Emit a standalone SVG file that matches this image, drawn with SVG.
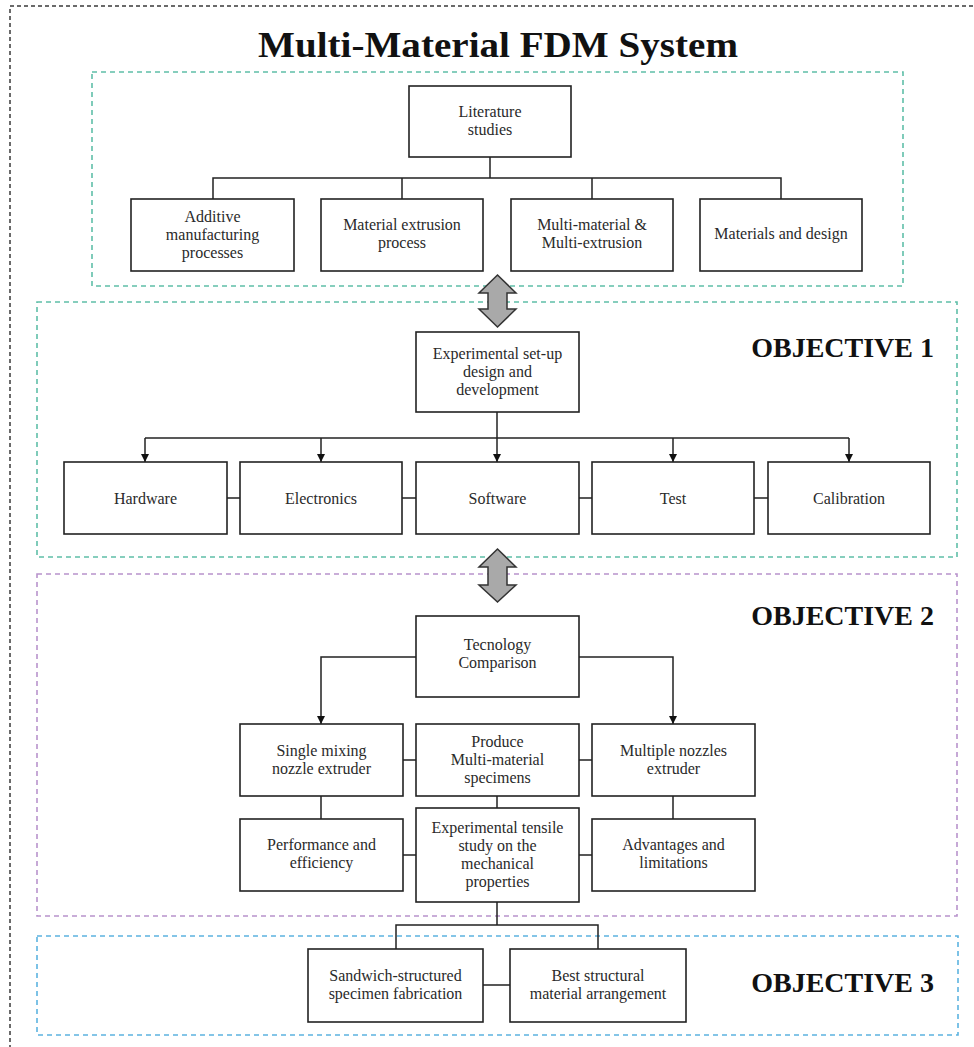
<svg xmlns="http://www.w3.org/2000/svg" width="974" height="1047" viewBox="0 0 974 1047">
<style>
.node rect{fill:#fff;stroke:#222;stroke-width:1.6}
.node text{font-family:"Liberation Serif","Times New Roman",serif;font-size:16px;fill:#2a2a2a;text-anchor:middle}
.conn path,.conn line{stroke:#222;stroke-width:1.5;fill:none}
.arr{marker-end:url(#ah)}
.dbl{fill:#a9a9a9;stroke:#333;stroke-width:1.5;stroke-linejoin:miter}
.frame{fill:none;stroke-width:1.6;stroke-dasharray:5 4}
.teal{stroke:#5fbfa8}
.purple{stroke:#b893cc}
.blue{stroke:#5cb3e0}
.obj{font-family:"Liberation Serif","Times New Roman",serif;font-size:28px;font-weight:bold;fill:#111;text-anchor:end}
</style>
<defs>
<marker id="ah" viewBox="0 0 10 10" refX="10" refY="5" markerWidth="8" markerHeight="8" markerUnits="userSpaceOnUse" orient="auto">
<path d="M0,0 L10,5 L0,10 z" fill="#111"/>
</marker>
</defs>
<rect width="974" height="1047" fill="#fff"/>
<rect x="10" y="6" width="1000" height="1100" fill="none" stroke="#6a6a6a" stroke-width="2" stroke-dasharray="4 3"/>
<text x="498" y="57" font-family="'Liberation Serif','Times New Roman',serif" font-size="36" font-weight="bold" fill="#111" text-anchor="middle" textLength="480" lengthAdjust="spacingAndGlyphs">Multi-Material FDM System</text>
<g id="frames">
<rect class="frame teal" x="92" y="72" width="811" height="214"/>
<rect class="frame teal" x="37" y="302" width="920" height="255"/>
<rect class="frame purple" x="37" y="574" width="920" height="342"/>
<rect class="frame blue" x="37" y="936" width="921" height="99"/>
</g>
<text class="obj" x="934" y="357">OBJECTIVE 1</text>
<text class="obj" x="934" y="625">OBJECTIVE 2</text>
<text class="obj" x="934" y="992">OBJECTIVE 3</text>
<g id="connectors" class="conn">
<path d="M490,157 V178 M213,199 V178 H781 V199 M402,178 V199 M592,178 V199"/>
<path class="arr" d="M497,412 V462"/>
<path d="M145,438 H849"/>
<path class="arr" d="M145,438 V462"/>
<path class="arr" d="M321,438 V462"/>
<path class="arr" d="M673,438 V462"/>
<path class="arr" d="M849,438 V462"/>
<path d="M227,498 H240 M402,498 H416 M579,498 H592 M754,498 H768"/>
<path class="arr" d="M416,657 H321 V724"/>
<path class="arr" d="M579,657 H673 V724"/>
<path d="M403,760 H416 M579,760 H592 M321,796 V819 M497,796 V808 M673,796 V819 M403,855 H416 M579,855 H592"/>
<path d="M497,902 V925 M396,949 V925 H598 V949 M483,985 H510"/>
<polygon class="dbl" points="497.5,275 516,293 507,293 507,309 516,309 497.5,327 479,309 488,309 488,293 479,293"/>
<polygon class="dbl" points="497.5,549 516,567 507,567 507,585 516,585 497.5,602 479,585 488,585 488,567 479,567"/>
</g>
<g id="literature" class="node"><rect x="409" y="86" width="162" height="71"/><text x="490" y="117">Literature</text><text x="490" y="135">studies</text></g>
<g id="additive" class="node"><rect x="131" y="199" width="163" height="72"/><text x="212.5" y="222">Additive</text><text x="212.5" y="240">manufacturing</text><text x="212.5" y="258">processes</text></g>
<g id="extrusion" class="node"><rect x="321" y="199" width="162" height="72"/><text x="402" y="230">Material extrusion</text><text x="402" y="248">process</text></g>
<g id="multimaterial" class="node"><rect x="511" y="199" width="162" height="72"/><text x="592" y="230">Multi-material &amp;</text><text x="592" y="248">Multi-extrusion</text></g>
<g id="materials" class="node"><rect x="700" y="199" width="162" height="72"/><text x="781" y="239">Materials and design</text></g>
<g id="setup" class="node"><rect x="416" y="332" width="163" height="80"/><text x="497.5" y="359">Experimental set-up</text><text x="497.5" y="377">design and</text><text x="497.5" y="395">development</text></g>
<g id="hardware" class="node"><rect x="64" y="462" width="163" height="72"/><text x="145.5" y="504">Hardware</text></g>
<g id="electronics" class="node"><rect x="240" y="462" width="162" height="72"/><text x="321" y="504">Electronics</text></g>
<g id="software" class="node"><rect x="416" y="462" width="163" height="72"/><text x="497.5" y="504">Software</text></g>
<g id="test" class="node"><rect x="592" y="462" width="162" height="72"/><text x="673" y="504">Test</text></g>
<g id="calibration" class="node"><rect x="768" y="462" width="162" height="72"/><text x="849" y="504">Calibration</text></g>
<g id="comparison" class="node"><rect x="416" y="616" width="163" height="81"/><text x="497.5" y="650">Tecnology</text><text x="497.5" y="668">Comparison</text></g>
<g id="single" class="node"><rect x="240" y="724" width="163" height="72"/><text x="321.5" y="756">Single mixing</text><text x="321.5" y="774">nozzle extruder</text></g>
<g id="produce" class="node"><rect x="416" y="724" width="163" height="72"/><text x="497.5" y="747">Produce</text><text x="497.5" y="765">Multi-material</text><text x="497.5" y="783">specimens</text></g>
<g id="multiple" class="node"><rect x="592" y="724" width="163" height="72"/><text x="673.5" y="756">Multiple nozzles</text><text x="673.5" y="774">extruder</text></g>
<g id="performance" class="node"><rect x="240" y="819" width="163" height="72"/><text x="321.5" y="850">Performance and</text><text x="321.5" y="868">efficiency</text></g>
<g id="tensile" class="node"><rect x="416" y="808" width="163" height="94"/><text x="497.5" y="833">Experimental tensile</text><text x="497.5" y="851">study on the</text><text x="497.5" y="869">mechanical</text><text x="497.5" y="887">properties</text></g>
<g id="advantages" class="node"><rect x="592" y="819" width="163" height="72"/><text x="673.5" y="850">Advantages and</text><text x="673.5" y="868">limitations</text></g>
<g id="sandwich" class="node"><rect x="308" y="949" width="175" height="73"/><text x="395.5" y="981">Sandwich-structured</text><text x="395.5" y="999">specimen fabrication</text></g>
<g id="best" class="node"><rect x="510" y="949" width="176" height="73"/><text x="598" y="981">Best structural</text><text x="598" y="999">material arrangement</text></g>
</svg>
